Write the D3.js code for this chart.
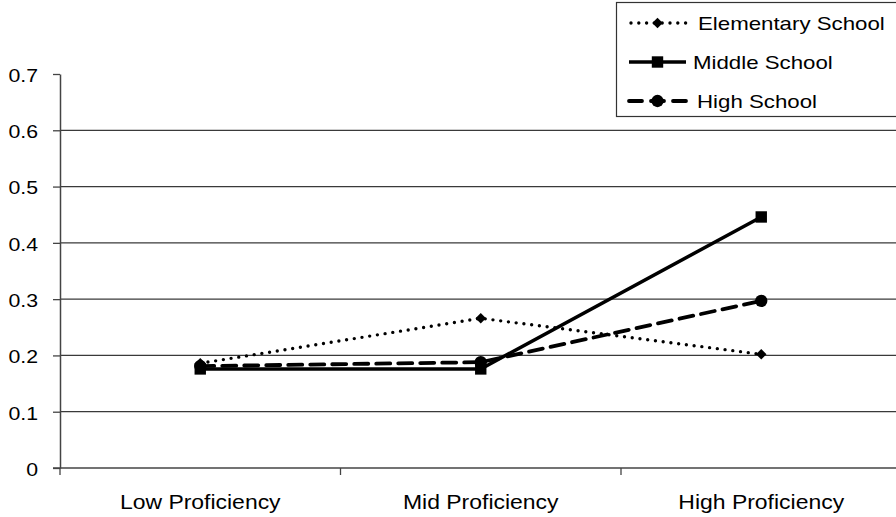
<!DOCTYPE html>
<html><head><meta charset="utf-8">
<script src="https://cdn.jsdelivr.net/npm/d3@7"></script>
<style>body{margin:0;background:#fff}svg{display:block;font-family:"Liberation Sans",Arial,sans-serif}</style>
</head><body>
<svg id="c" width="896" height="517"></svg>
<script>
const categories = ["Low Proficiency", "Mid Proficiency", "High Proficiency"];
const elementary = [0.186, 0.266, 0.202];
const middle = [0.176, 0.176, 0.446];
const high = [0.181, 0.188, 0.297];
const yTicks = [0, 0.1, 0.2, 0.3, 0.4, 0.5, 0.6, 0.7];
const seriesNames = ["Elementary School", "Middle School", "High School"];

(function () {
const series = [
  {name: seriesNames[0], values: elementary, marker: d3.symbolSquare, rot: 45, msize: 55, width: 3.4, dash: "0,7.8", cap: "round"},
  {name: seriesNames[1], values: middle, marker: d3.symbolSquare, rot: 0, msize: 130, width: 3.5, dash: null, cap: "butt"},
  {name: seriesNames[2], values: high, marker: d3.symbolCircle, rot: 0, msize: 120, width: 3.8, dash: "14,8", cap: "round"}
];

const svg = d3.select("#c");
const mLeft = 60, mRight = 901.5, mTop = 74, mBottom = 468;
const x = d3.scaleBand().domain(categories).range([mLeft, mRight]);
const y = d3.scaleLinear().domain([0, 0.7]).range([mBottom, mTop]);

// gridlines
svg.append("g").selectAll("line").data(yTicks.filter(t => t > 0 && t < 0.7)).join("line")
  .attr("x1", mLeft).attr("x2", 896).attr("y1", d => y(d)).attr("y2", d => y(d))
  .attr("stroke", "#3a3a3a").attr("stroke-width", 1.2);

// y axis
const gy = svg.append("g").attr("transform", `translate(${mLeft},0)`)
  .call(d3.axisLeft(y).tickValues(yTicks).tickSize(7).tickSizeOuter(0).tickFormat(d => d === 0 ? "0" : d3.format(".1f")(d)));
gy.select(".domain").attr("stroke", "#444").attr("stroke-width", 1.5);
gy.selectAll(".tick line").attr("stroke", "#444").attr("stroke-width", 1.3);
gy.selectAll(".tick text").attr("font-size", 18.5).attr("fill", "#000")
  .attr("x", 0).attr("dy", "0.4em")
  .attr("transform", "translate(-22,0) scale(1.15,1)");

// x axis line and boundary ticks
svg.append("line").attr("x1", mLeft - 7).attr("x2", 896).attr("y1", mBottom).attr("y2", mBottom)
  .attr("stroke", "#444").attr("stroke-width", 1.5);
svg.append("g").selectAll("line").data(categories).join("line")
  .attr("x1", d => x(d)).attr("x2", d => x(d)).attr("y1", mBottom).attr("y2", mBottom + 7)
  .attr("stroke", "#444").attr("stroke-width", 1.3);
svg.append("g").selectAll("text").data(categories).join("text")
  .attr("transform", d => `translate(${x(d) + x.bandwidth() / 2},509) scale(1.12,1)`)
  .attr("text-anchor", "middle").attr("font-size", 20.5).attr("fill", "#000").text(d => d);

// lines
const cx = c => x(c) + x.bandwidth() / 2;
const line = d3.line().x((d, i) => cx(categories[i])).y(d => y(d));
series.forEach(s => {
  svg.append("path").attr("d", line(s.values)).attr("fill", "none").attr("stroke", "#000")
    .attr("stroke-width", s.width).attr("stroke-dasharray", s.dash).attr("stroke-linecap", s.cap);
});
series.forEach(s => {
  svg.append("g").selectAll("path").data(s.values).join("path")
    .attr("transform", (d, i) => `translate(${cx(categories[i])},${y(d)}) rotate(${s.rot})`)
    .attr("d", d3.symbol(s.marker, s.msize)).attr("fill", "#000");
});

// legend
const lg = svg.append("g");
lg.append("rect").attr("x", 616.5).attr("y", 2.5).attr("width", 290).attr("height", 114)
  .attr("fill", "#fff").attr("stroke", "#333").attr("stroke-width", 1.2);
const legendY = [23, 62, 101];
const textX = [698, 693, 697];
series.forEach((s, i) => {
  const ly = legendY[i];
  lg.append("line").attr("x1", i === 0 ? 631 : 629).attr("x2", 686).attr("y1", ly).attr("y2", ly)
    .attr("stroke", "#000").attr("stroke-width", s.width)
    .attr("stroke-dasharray", i === 2 ? "13,9" : s.dash).attr("stroke-linecap", s.cap);
  lg.append("path").attr("transform", `translate(657.5,${ly}) rotate(${s.rot})`)
    .attr("d", d3.symbol(s.marker, s.msize)).attr("fill", "#000");
  lg.append("text").attr("transform", `translate(${textX[i]},${ly + 7}) scale(1.19,1)`)
    .attr("font-size", 18.7).attr("fill", "#000").text(s.name);
});
})();
</script>
</body></html>
